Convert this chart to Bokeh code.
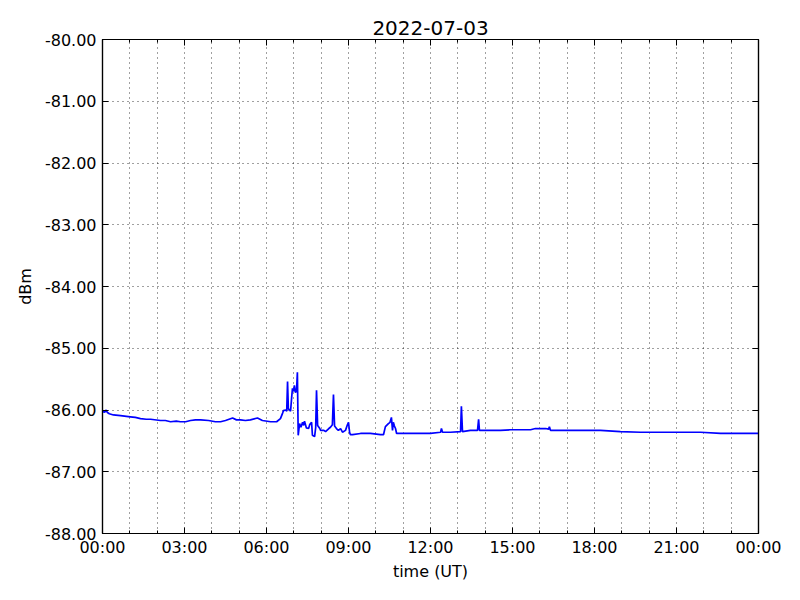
from bokeh.plotting import figure
from bokeh.models import Range1d, FixedTicker, LinearAxis, NumeralTickFormatter
from bokeh.embed import file_html
from bokeh.resources import INLINE

title_text = "2022-07-03"
x_label = "time (UT)"
y_label = "dBm"

# time of day in hours (UT), and received level in dBm
time_h = [0.00, 0.04, 0.08, 0.12, 0.18, 0.25, 0.40, 0.66, 1.02, 1.20, 1.39, 1.60, 1.76, 2.12, 2.30,
          2.49, 2.70, 2.85, 3.04, 3.22, 3.40, 3.59, 3.88, 4.13, 4.32, 4.50, 4.76, 4.90, 5.05, 5.23,
          5.41, 5.67, 5.85, 6.15, 6.37, 6.51, 6.59, 6.62, 6.70, 6.74, 6.77, 6.80, 6.85, 6.88, 6.92,
          6.95, 6.99, 7.02, 7.06, 7.10, 7.13, 7.16, 7.21, 7.26, 7.32, 7.36, 7.39, 7.46, 7.54, 7.58,
          7.61, 7.65, 7.68, 7.76, 7.80, 7.83, 7.87, 7.95, 7.98, 8.10, 8.16, 8.28, 8.34, 8.41, 8.45,
          8.49, 8.56, 8.63, 8.71, 8.78, 8.89, 8.96, 9.00, 9.04, 9.07, 9.15, 9.44, 9.80, 10.17, 10.28,
          10.35, 10.46, 10.52, 10.57, 10.61, 10.64, 10.68, 10.72, 10.76, 10.90, 11.27, 11.63, 12.00,
          12.37, 12.40, 12.44, 12.73, 13.10, 13.13, 13.17, 13.46, 13.72, 13.76, 13.79, 14.20, 14.56,
          14.93, 15.29, 15.66, 15.84, 16.21, 16.32, 16.35, 16.39, 16.76, 17.49, 18.22, 18.95, 19.68,
          20.41, 21.15, 21.88, 22.61, 23.34, 24.00]
level_dbm = [-86.04, -86.01, -86.04, -86.00, -86.04, -86.06, -86.08, -86.09, -86.11, -86.12, -86.14,
             -86.15, -86.15, -86.17, -86.17, -86.19, -86.18, -86.19, -86.19, -86.17, -86.16, -86.16,
             -86.17, -86.19, -86.19, -86.17, -86.13, -86.16, -86.16, -86.17, -86.16, -86.13, -86.17,
             -86.19, -86.19, -86.14, -86.05, -86.01, -86.00, -86.02, -85.54, -85.98, -86.00, -86.02,
             -85.80, -85.65, -85.70, -85.60, -85.72, -85.68, -85.39, -86.41, -86.22, -86.28, -86.20,
             -86.25, -86.18, -86.29, -86.30, -86.24, -86.22, -86.20, -86.41, -86.43, -86.28, -85.68,
             -86.25, -86.30, -86.33, -86.33, -86.35, -86.30, -86.28, -86.24, -85.75, -86.26, -86.30,
             -86.33, -86.30, -86.36, -86.33, -86.24, -86.20, -86.36, -86.40, -86.40, -86.38, -86.38,
             -86.40, -86.40, -86.27, -86.22, -86.20, -86.12, -86.33, -86.20, -86.26, -86.30, -86.38,
             -86.38, -86.38, -86.38, -86.38, -86.36, -86.30, -86.36, -86.36, -86.35, -85.94, -86.35,
             -86.33, -86.33, -86.15, -86.33, -86.33, -86.33, -86.32, -86.32, -86.32, -86.30, -86.30,
             -86.31, -86.27, -86.33, -86.33, -86.33, -86.33, -86.35, -86.36, -86.36, -86.36, -86.36,
             -86.38, -86.38, -86.38]

x_major = [0, 3, 6, 9, 12, 15, 18, 21, 24]
x_minor = [1, 2, 4, 5, 7, 8, 10, 11, 13, 14, 16, 17, 19, 20, 22, 23]
x_tick_labels = ["00:00", "03:00", "06:00", "09:00", "12:00", "15:00", "18:00", "21:00", "00:00"]
y_major = [-88, -87, -86, -85, -84, -83, -82, -81, -80]

FONT = "DejaVu Sans"

p = figure(frame_width=656, frame_height=494,
           x_range=Range1d(0, 24), y_range=Range1d(-88, -80),
           output_backend="svg", toolbar_location=None,
           min_border_left=102, min_border_right=26, min_border_top=39, min_border_bottom=51)
p.background_fill_color = "white"
p.border_fill_color = "white"
p.outline_line_color = "black"
p.outline_line_width = 1.2

p.title.text = title_text
p.title.align = "center"
p.title.text_font = FONT
p.title.text_font_size = "20px"
p.title.text_font_style = "normal"
p.title.text_color = "black"
p.title.standoff = 9

xt = FixedTicker(ticks=x_major, minor_ticks=x_minor)
yt = FixedTicker(ticks=y_major, minor_ticks=[])


def style_axis(ax):
    ax.axis_line_color = "black"
    ax.axis_line_width = 1.2
    ax.major_tick_in = 6
    ax.major_tick_out = 0
    ax.minor_tick_in = 3
    ax.minor_tick_out = 0
    ax.major_tick_line_color = "black"
    ax.minor_tick_line_color = "black"
    ax.major_label_text_font = FONT
    ax.major_label_text_font_size = "16px"
    ax.major_label_text_color = "black"
    ax.axis_label_text_font = FONT
    ax.axis_label_text_font_size = "16px"
    ax.axis_label_text_font_style = "normal"
    ax.axis_label_text_color = "black"


xa = p.xaxis[0]
xa.ticker = xt
xa.major_label_overrides = {t: s for t, s in zip(x_major, x_tick_labels)}
xa.axis_label = x_label
xa.major_label_standoff = 4
xa.axis_label_standoff = 2
style_axis(xa)

ya = p.yaxis[0]
ya.ticker = yt
ya.formatter = NumeralTickFormatter(format="0.00")
ya.axis_label = y_label
ya.major_label_standoff = 6
ya.axis_label_standoff = 7
style_axis(ya)

top = LinearAxis(ticker=xt)
style_axis(top)
top.major_label_overrides = {t: "" for t in x_major}
top.major_label_standoff = 0
p.add_layout(top, "above")
right = LinearAxis(ticker=yt)
style_axis(right)
right.major_label_overrides = {t: "" for t in y_major}
right.major_label_standoff = 0
p.add_layout(right, "right")

for g in (p.xgrid[0], p.ygrid[0]):
    g.grid_line_color = "black"
    g.grid_line_dash = "1 4"
    g.grid_line_width = 1
    g.grid_line_alpha = 0.75
p.xgrid[0].ticker = xt
p.ygrid[0].ticker = yt
p.xgrid[0].minor_grid_line_color = "black"
p.xgrid[0].minor_grid_line_dash = "1 4"
p.xgrid[0].minor_grid_line_alpha = 0.75

p.line(time_h, level_dbm, line_color="#0000ff", line_width=1.7)

open("out.html", "w").write(file_html(p, INLINE))
